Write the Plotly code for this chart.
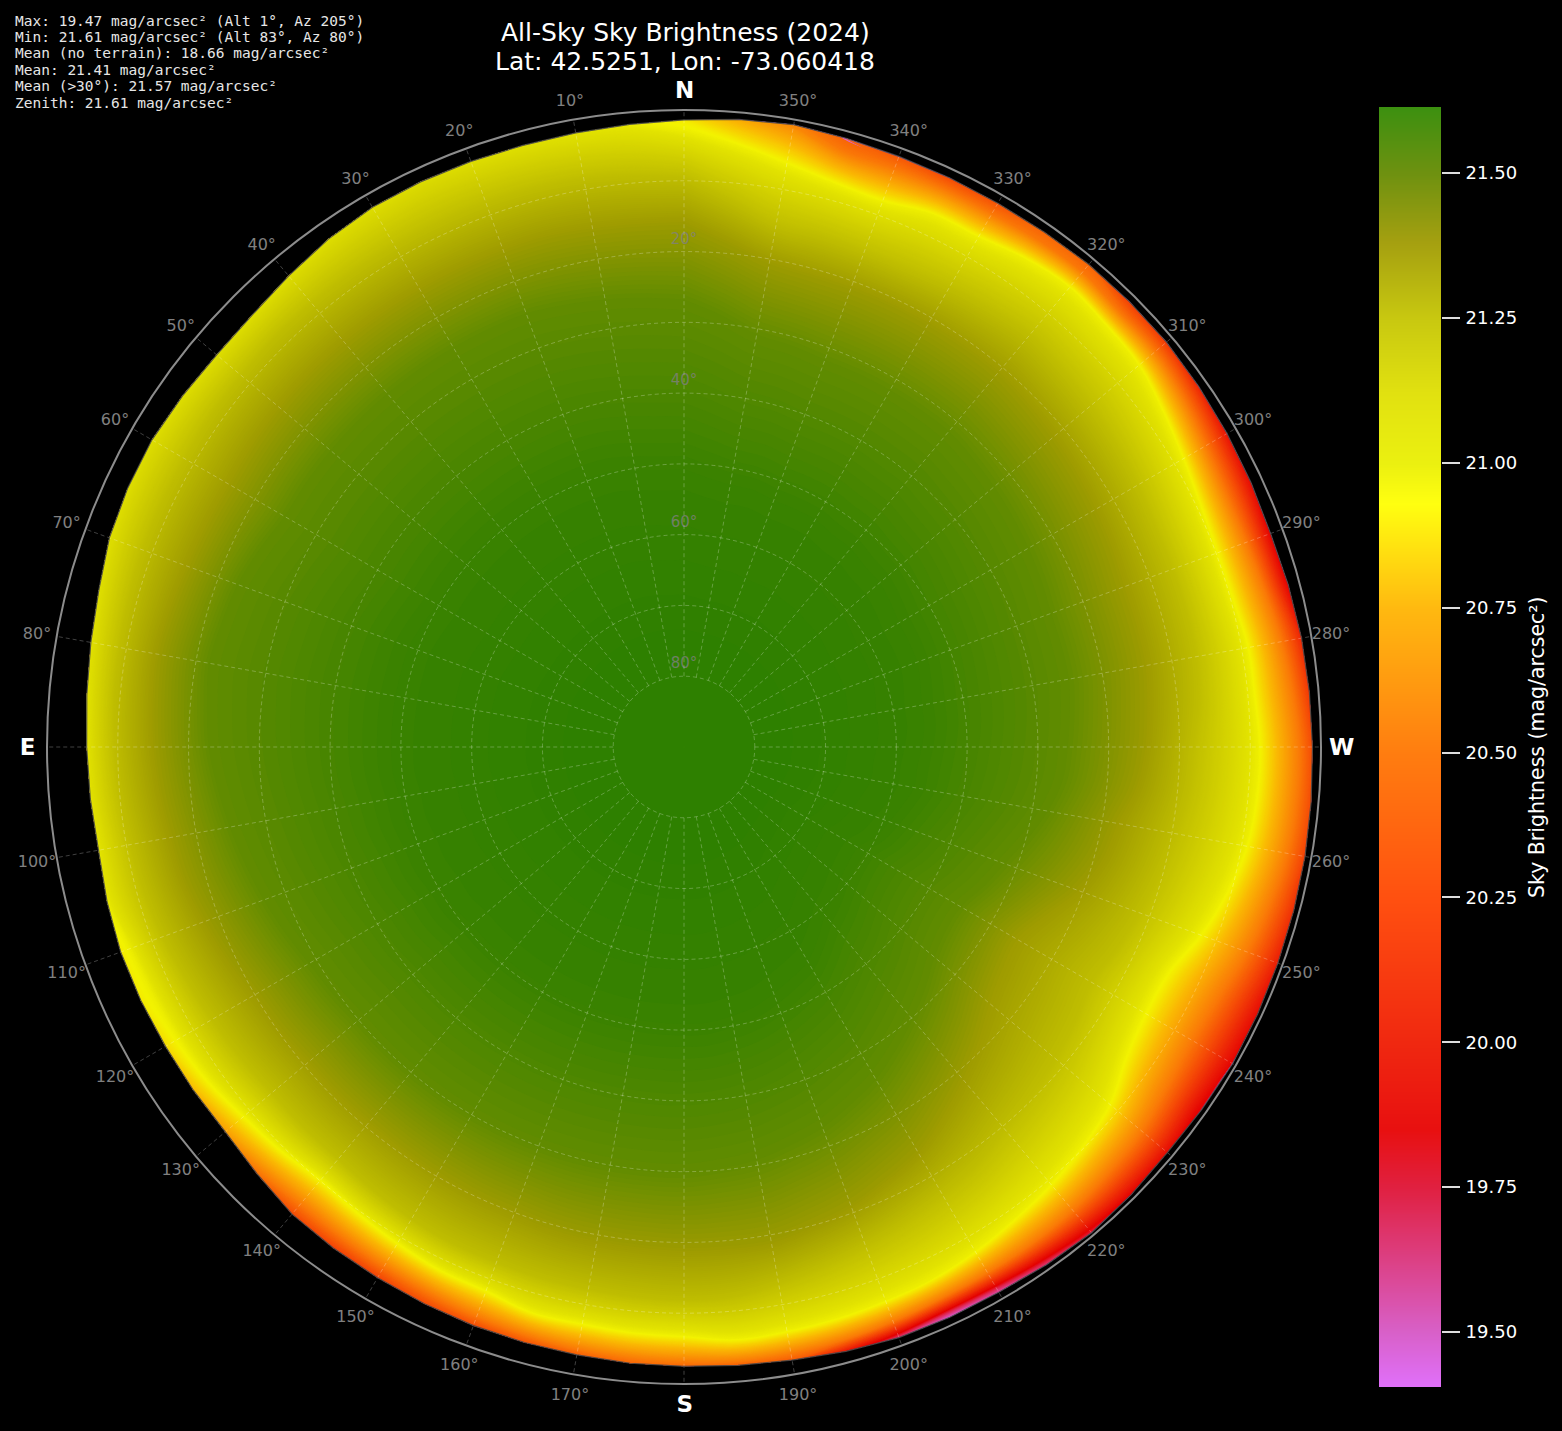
import numpy as np
import plotly.graph_objects as go

W, H = 1562, 1431
azimuths = list(range(0, 360, 5))

# altitude of the terrain edge at each azimuth (deg)
edge_alt = [1.4,1.7,1.9,2.0,1.95,1.9,1.95,2.4,3.1,3.7,3.8,3.5,3.2,3.3,3.6,4.4,4.9,5.3,5.6,5.8,6.0,5.6,5.3,5.3,
            5.4,5.4,5.4,4.7,3.85,3.6,3.4,3.2,3.0,2.9,2.8,2.6,2.5,2.3,2.05,1.6,1.2,1.1,1.05,0.7,0.4,0.6,0.85,0.7,
            0.5,0.6,0.7,0.8,0.9,1.05,1.2,1.3,1.4,1.6,1.8,1.6,1.4,1.2,1.0,1.0,1.0,1.2,1.3,1.25,1.2,1.0,0.7,1.0]
# brightness just above the terrain edge
edge_mag = [20.9,20.97,21.0,21.02,21.03,21.04,21.03,21.03,21.03,21.03,21.03,21.03,21.03,21.03,21.02,21.02,21.01,21.0,21.0,21.0,20.99,20.97,20.9,20.9,
            20.85,20.75,20.65,20.45,20.25,20.2,20.2,20.25,20.25,20.3,20.35,20.4,20.4,20.35,20.35,19.95,19.65,19.47,19.55,19.65,19.75,19.85,19.9,19.82,
            19.85,19.9,20.0,20.1,20.2,20.25,20.25,20.15,20.05,19.85,19.85,19.9,19.95,20.05,20.15,20.2,20.4,20.4,20.3,20.25,20.32,20.38,20.55,20.7]
# altitude at which the sky reaches a given brightness (None: edge is already brighter value)
alt_2050 = [None]*27 + [5.0,5.6,5.5,5.2,4.8,4.3,3.9,3.5,3.2,3.0,2.8,2.9,3.2,3.6,4.0,4.2,4.3,4.5,5.0,5.5,6.5,
            7.0,6.5,5.2,4.2,3.3,3.0,3.0,3.6,4.2,5.0,5.4,5.4,4.8,3.8,3.0,3.0,2.4,2.6,3.0,3.0,3.0,2.8,None,None]
alt_2095 = [2.8]+[None]*21+[6.6,7.1,7.5,8.0,9.0,9.6,10.3,9.8,9.2,8.6,8.4,7.4,7.4,7.1,6.9,6.1,6.3,6.5,6.8,7.1,7.8,8.7,9.5,10.5,11.7,14.0,
            15.0,14.8,12.6,10.8,9.5,9.0,8.9,9.3,9.3,9.9,10.0,9.6,8.7,7.5,6.2,5.8,5.3,5.9,6.9,7.0,8.1,7.7,6.5,4.7]
alt_2125 = [9.5,9.0,8.5,8.3,8.2,8.2,8.2,8.2,8.2,8.2,8.4,8.4,8.6,8.6,8.6,8.8,9.0,9.2,9.5,10.0,10.6,11.0,11.6,12.4,
            13.0,13.5,14,14,14,13.5,13,12.6,12.5,12.3,12.2,12,11.8,12,13,14.0,15.0,16.0,17,18,19.5,20.5,21.5,22.5,
            23.5,22.5,21.5,20.5,19.5,18.5,18,17,16.5,16.5,16.5,16.5,16,15.5,15,14.5,14,14.5,15,15.5,15.5,15.3,15,12.5]
alt_2140 = [16,16,15.8,15.5,15.5,15.5,15.5,15.5,15.5,15.5,15.6,15.8,16,15.8,15.5,15,14.5,14.8,15.2,15.8,16.5,17,18,19,
            20,20.5,21,21,21,20.8,20.5,20.2,20,19.5,19.3,19.2,19,19,19,20,21,22.5,24,26.5,29,31.5,34,35.5,
            36,34,31,29,28,26,25,24.5,24,24,24,23.5,23,22.5,22,21.5,21,21,21,21,21,21,20.5,18.5]
alt_2150 = [27,26.5,26,25.5,25,25,25,25,25,25,25,25,25,24,23,22.5,22,22.5,23,24,25,26,27,28,
            29,29.5,30,30,30,30,30,30,30,30,30,30,30,30.5,31,32,33,34.5,36,38,40,42,44,45,
            45,43.5,42,40,38,36.5,36,35.5,35,35,35,34.5,34,33.5,33,32.5,32,32,32,32,32,31.5,31,29]
alt_2158 = [52,52,51.5,51,51,51,51,51,51,51,51,51,51,50.5,50,50,50,50,50,50,50.5,50.5,51,51,
            51.5,51.5,52,52,52,52,52,52,52,52,52,52,52,52,52.5,53,54,55,56,58,60,61,62,62.5,
            62.5,61,60,59,58,58,57.5,57,57,56.5,56,56,56,55.5,55,55,54.5,54.5,54,54,54,53.5,53.5,53]
levels = [20.50, 20.95, 21.25, 21.40, 21.50, 21.58]
level_alts = [alt_2050, alt_2095, alt_2125, alt_2140, alt_2150, alt_2158]
disc_alt = 80.0
disc_mag = 21.614

az_labels = [a for a in range(10, 360, 10) if a % 90]
cardinals = ["N", "E", "S", "W"]
cardinal_az = [0, 90, 180, 270]
ring_alts = [10, 20, 30, 40, 50, 60, 70, 80]
ring_label_alts = [20, 40, 60, 80]
cb_ticks = [19.5, 19.75, 20.0, 20.25, 20.5, 20.75, 21.0, 21.25, 21.5]
stats_lines = ["Max: 19.47 mag/arcsec² (Alt 1°, Az 205°)",
               "Min: 21.61 mag/arcsec² (Alt 83°, Az 80°)",
               "Mean (no terrain): 18.66 mag/arcsec²",
               "Mean: 21.41 mag/arcsec²",
               "Mean (>30°): 21.57 mag/arcsec²",
               "Zenith: 21.61 mag/arcsec²"]
zmin, zmax = 19.405, 21.614

def scale(stops, lo=zmin, hi=zmax):
    return [[(v - lo) / (hi - lo), c] for v, c in stops]

sky_scale = scale([(19.405,"rgb(224,112,250)"),(19.5,"rgb(215,90,200)"),(19.75,"rgb(225,35,70)"),(19.85,"rgb(228,4,4)"),
                   (20.0,"rgb(235,30,8)"),(20.25,"rgb(245,75,8)"),(20.5,"rgb(250,120,8)"),(20.75,"rgb(250,185,4)"),
                   (20.93,"rgb(243,243,0)"),(21.0,"rgb(226,226,0)"),(21.12,"rgb(210,208,0)"),(21.25,"rgb(192,190,0)"),
                   (21.4,"rgb(158,155,0)"),(21.5,"rgb(100,140,0)"),(21.58,"rgb(58,130,0)"),(21.614,"rgb(46,128,0)")])
bar_scale = scale([(19.405,"rgb(224,112,250)"),(19.5,"rgb(216,96,200)"),(19.75,"rgb(224,32,64)"),(19.85,"rgb(232,16,16)"),
                   (20.0,"rgb(240,40,16)"),(20.25,"rgb(255,80,16)"),(20.5,"rgb(255,125,16)"),(20.75,"rgb(255,185,16)"),
                   (20.93,"rgb(255,255,16)"),(21.0,"rgb(235,240,16)"),(21.12,"rgb(225,225,16)"),(21.25,"rgb(200,200,16)"),
                   (21.38,"rgb(165,160,16)"),(21.5,"rgb(110,145,16)"),(21.614,"rgb(60,144,16)")])

# table of altitude and brightness rows, one column per azimuth (wrapped)
alt_rows, mag_rows = [edge_alt], [edge_mag]
for lev, alts in zip(levels, level_alts):
    ra, rm = [], []
    for h, z0, a in zip(edge_alt, edge_mag, alts):
        if a is None or z0 >= lev:
            ra.append(h); rm.append(z0)
        else:
            ra.append(max(a, h)); rm.append(lev)
    alt_rows.append(ra); mag_rows.append(rm)
alt_rows += [[disc_alt]*72, [89.9]*72]
mag_rows += [[disc_mag]*72, [disc_mag]*72]
alt = np.array(alt_rows, float)
for k in range(1, alt.shape[0]):
    alt[k] = np.maximum(alt[k], alt[k-1] + 0.03)
alt = np.hstack([alt, alt[:, :1]])
mag = np.array(mag_rows, float)
mag = np.hstack([mag, mag[:, :1]])
az = np.array(azimuths + [360], float)
r = 90 - alt
X = -r * np.sin(np.radians(az))
Y = r * np.cos(np.radians(az))

PX = 637 / 90
cx, cy, rad = 684, 747, 637
dom_x = [(cx - rad) / W, (cx + rad) / W]
dom_y = [1 - (cy + rad) / H, 1 - (cy - rad) / H]

fig = go.Figure()
hidden = dict(showgrid=False, showline=False, showticklabels="none", startline=False, endline=False,
              minorgridcount=0, smoothing=0, tickmode="array", tickvals=[])
fig.add_trace(go.Carpet(a=az.tolist(), b=list(range(alt.shape[0])), x=X.tolist(), y=Y.tolist(), carpet="sky",
                        aaxis=hidden, baxis=hidden, xaxis="x", yaxis="y"))
fig.add_trace(go.Contourcarpet(a=az.tolist(), b=list(range(alt.shape[0])), z=mag.tolist(), carpet="sky",
                               autocontour=False, contours=dict(start=19.41, end=21.61, size=0.006, coloring="fill", showlines=False),
                               line=dict(width=0), colorscale=sky_scale, zmin=zmin, zmax=zmax, showscale=False,
                               xaxis="x", yaxis="y"))

# spokes (alt 0 to alt 80) and terrain outline on the polar overlay
sp_t, sp_r = [], []
for a in range(0, 360, 10):
    sp_t += [a, a, None]; sp_r += [10, 90, None]
grid = "rgba(255,255,255,0.25)"
fig.add_trace(go.Scatterpolar(theta=sp_t, r=sp_r, mode="lines", line=dict(color=grid, width=1, dash="4px,3px"),
                              subplot="polar", hoverinfo="skip"))
fig.add_trace(go.Scatterpolar(theta=azimuths + [360], r=[90 - h for h in edge_alt] + [90 - edge_alt[0]], mode="lines",
                              line=dict(color="rgba(70,70,70,0.9)", width=1.2), subplot="polar", hoverinfo="skip"))

# angle labels, cardinal labels and altitude labels
def xy(a, rr):
    return -rr * np.sin(np.radians(a)), rr * np.cos(np.radians(a))
lr = 657 / PX
nudge = 2 / PX
lx, ly = xy(np.array(az_labels, float), lr)
fig.add_trace(go.Scatter(x=lx.tolist(), y=(ly - nudge).tolist(), mode="text", text=[f"{a}°" for a in az_labels],
                         textfont=dict(family="DejaVu Sans", size=16, color="#808080"), cliponaxis=False,
                         xaxis="x", yaxis="y", hoverinfo="skip"))
lx, ly = xy(np.array(cardinal_az, float), lr)
fig.add_trace(go.Scatter(x=(lx + 0.1).tolist(), y=(ly - nudge).tolist(), mode="text", text=[f"<b>{c}</b>" for c in cardinals],
                         textfont=dict(family="DejaVu Sans", size=23, color="white"), cliponaxis=False,
                         xaxis="x", yaxis="y", hoverinfo="skip"))
fig.add_trace(go.Scatter(x=[0]*4, y=[90 - a + 11.5 / PX for a in ring_label_alts], mode="text",
                         text=[f"{a}°" for a in ring_label_alts],
                         textfont=dict(family="DejaVu Sans", size=15, color="rgba(128,128,128,0.8)"), cliponaxis=False,
                         xaxis="x", yaxis="y", hoverinfo="skip"))

# colour bar drawn as its own heatmap
bar_vals = np.arange(zmin, zmax + 0.002, 0.004)
fig.add_trace(go.Heatmap(x=[0, 1], y=bar_vals.tolist(), z=[[v, v] for v in bar_vals], colorscale=bar_scale, zmin=zmin, zmax=zmax,
                         zsmooth="best", showscale=False, xaxis="x2", yaxis="y2", hoverinfo="skip"))

anns = []
for i, s in enumerate(stats_lines):
    anns.append(dict(xref="paper", yref="paper", x=13 / W, y=1 - (20.5 + i * 16.4) / H, text=s, showarrow=False, xanchor="left",
                     yanchor="middle", font=dict(family="DejaVu Sans Mono", size=14.5, color="#e6e6e6")))
for t, py in (("All-Sky Sky Brightness (2024)", 33), ("Lat: 42.5251, Lon: -73.060418", 61)):
    anns.append(dict(xref="paper", yref="paper", x=(cx + 1) / W, y=1 - py / H, text=t, showarrow=False, xanchor="center",
                     yanchor="middle", font=dict(family="DejaVu Sans", size=25, color="white")))
anns.append(dict(xref="paper", yref="paper", x=1537 / W, y=1 - 747 / H, text="Sky Brightness (mag/arcsec²)", textangle=-90,
                 showarrow=False, xanchor="center", yanchor="middle", font=dict(family="DejaVu Sans", size=20.5, color="white")))

fig.update_layout(
    width=W, height=H, margin=dict(l=0, r=0, t=0, b=0), paper_bgcolor="black", plot_bgcolor="black", showlegend=False,
    xaxis=dict(domain=[0, 1], range=[-cx / PX, (W - cx) / PX], visible=False, fixedrange=True),
    yaxis=dict(domain=[0, 1], range=[(cy - H) / PX, cy / PX], visible=False, fixedrange=True),
    xaxis2=dict(domain=[1379 / W, 1441 / W], range=[0, 1], visible=False, anchor="y2", fixedrange=True),
    yaxis2=dict(domain=[1 - 1387 / H, 1 - 107 / H], range=[zmin, zmax], anchor="x2", side="right", fixedrange=True,
                tickmode="array", tickvals=cb_ticks, ticktext=[f"{t:.2f}" for t in cb_ticks], ticks="outside", ticklen=18,
                tickwidth=2, tickcolor="#dddddd", showgrid=False, showline=False, zeroline=False, ticklabelstandoff=2,
                tickfont=dict(family="DejaVu Sans", size=18, color="white")),
    polar=dict(domain=dict(x=dom_x, y=dom_y), bgcolor="rgba(0,0,0,0)",
               angularaxis=dict(direction="counterclockwise", rotation=90, showgrid=False, showticklabels=False, ticks="",
                                showline=True, linecolor="#8c8c8c", linewidth=2),
               radialaxis=dict(range=[0, 90], tickmode="array", tickvals=[90 - a for a in ring_alts], showticklabels=False,
                               ticks="", showline=False, gridcolor=grid, gridwidth=1, griddash="4px,3px")),
    annotations=anns,
)
fig.write_html("out.html", post_script="document.body.style.margin='0';document.body.style.background='black';",
               config=dict(displayModeBar=False))
